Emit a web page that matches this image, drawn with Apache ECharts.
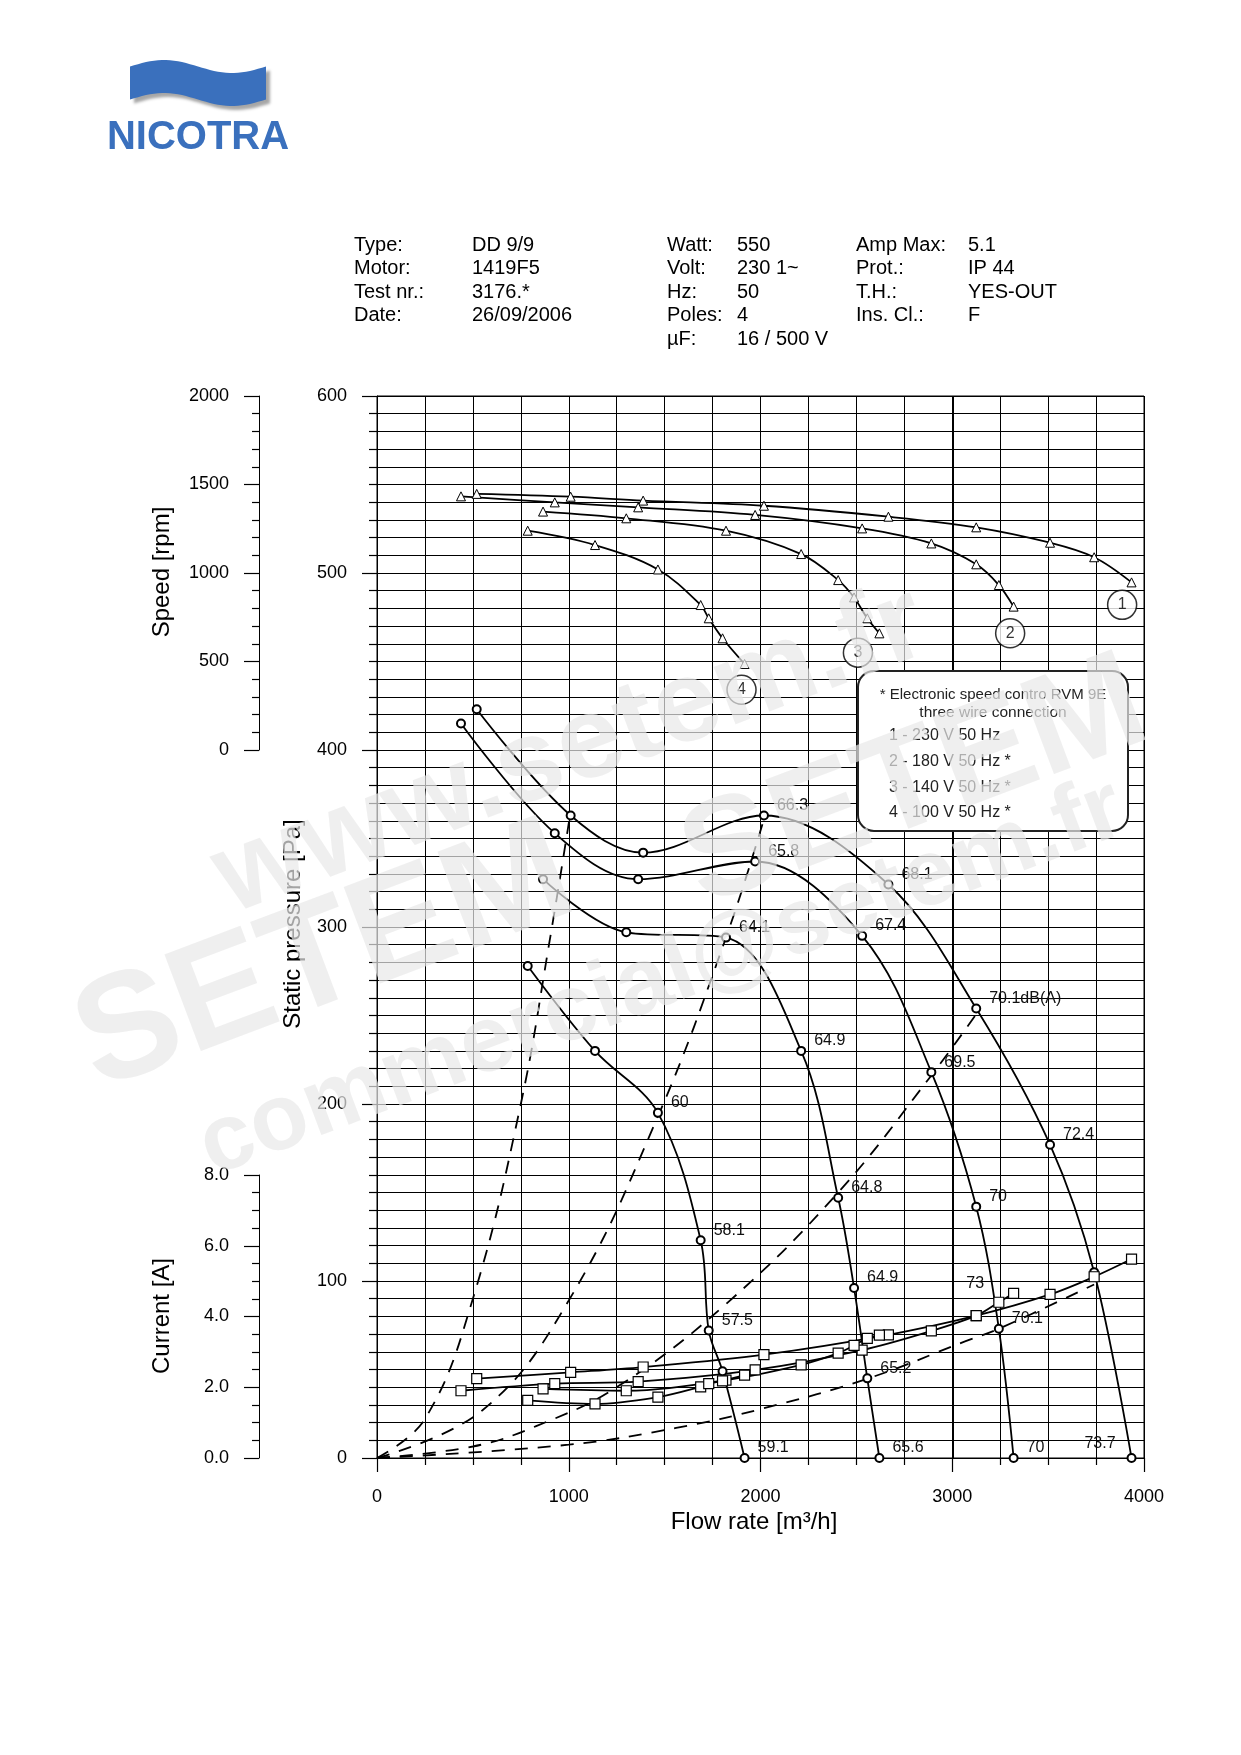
<!DOCTYPE html>
<html>
<head>
<meta charset="utf-8">
<script src="https://cdn.jsdelivr.net/npm/echarts@6/dist/echarts.min.js"></script>
<style>
  html, body { margin: 0; padding: 0; background: #fff; }
  #chart { width: 1241px; height: 1755px; }
</style>
</head>
<body>
<div id="chart"></div>
<script>
// fan performance curves, one set per supply voltage (1 = 230 V ... 4 = 100 V)
const flow1 = [520, 1010, 1388, 2018, 2667, 3125, 3510, 3740, 3935];
const pressure1 = [423, 363, 342, 363, 324, 254, 177, 105, 0];
const speed1 = [1447, 1431, 1409, 1380, 1318, 1258, 1171, 1089, 947];
const current1 = [2.24, 2.42, 2.57, 2.92, 3.48, 4.02, 4.62, 5.12, 5.62];
const noise1 = ['', '', '', '66.3', '68.1', '70.1dB(A)', '72.4', '73', '73.7'];

const flow2 = [438, 927, 1362, 1972, 2530, 2891, 3125, 3243, 3320];
const pressure2 = [415, 353, 327, 337, 295, 218, 142, 73, 0];
const speed2 = [1433, 1399, 1371, 1328, 1252, 1167, 1049, 932, 810];
const current2 = [1.90, 2.10, 2.16, 2.49, 3.05, 3.59, 4.02, 4.40, 4.65];
const noise2 = ['', '', '', '65.8', '67.4', '69.5', '70', '70.1', '70'];

const flow3 = [866, 1300, 1820, 2212, 2405, 2488, 2557, 2620];
const pressure3 = [327, 297, 294, 230, 147, 96, 45, 0];
const speed3 = [1347, 1309, 1239, 1107, 960, 862, 744, 659];
const current3 = [1.95, 1.90, 2.20, 2.63, 2.96, 3.18, 3.38, 3.47];
const noise3 = ['', '', '64.1', '64.9', '64.8', '64.9', '65.2', '65.6'];

const flow4 = [786, 1137, 1465, 1688, 1730, 1802, 1917];
const pressure4 = [278, 230, 195, 123, 72, 49, 0];
const speed4 = [1239, 1158, 1020, 819, 744, 631, 486];
const current4 = [1.63, 1.53, 1.72, 2.01, 2.10, 2.18, 2.34];
const noise4 = ['', '', '60', '58.1', '57.5', '', '59.1'];

// system (resistance) curves, dashed
const sys1Flow = [0, 250, 500, 750, 900, 1005];
const sys1Pressure = [0, 22, 90, 200, 292, 362];
const sys2Flow = [0, 550, 1000, 1465, 1820, 2010];
const sys2Pressure = [0, 27, 89, 193, 294, 358];
const sys3Flow = [0, 500, 830, 1250, 1820, 2405, 2890, 3120];
const sys3Pressure = [0, 6.5, 18, 40, 87, 150, 216, 250];
const sys4Flow = [0, 1000, 1560, 2014, 2563, 3070, 3243, 3740];
const sys4Pressure = [0, 7.5, 17, 28, 45, 66, 73, 98];

// circled curve numbers (flow, pressure)
const tagText = ['1', '2', '3', '4'];
const tagFlow = [3886, 3302, 2508, 1901];
const tagPressure = [482, 466, 455, 434];

const legendLines = ['1 - 230 V 50 Hz', '2 - 180 V 50 Hz *', '3 - 140 V 50 Hz *', '4 - 100 V 50 Hz *'];

const headerRows = [
  ['Type:', 'DD 9/9', 'Watt:', '550', 'Amp Max:', '5.1'],
  ['Motor:', '1419F5', 'Volt:', '230 1~', 'Prot.:', 'IP 44'],
  ['Test nr.:', '3176.*', 'Hz:', '50', 'T.H.:', 'YES-OUT'],
  ['Date:', '26/09/2006', 'Poles:', '4', 'Ins. Cl.:', 'F'],
  ['', '', '\u00b5F:', '16 / 500 V', '', '']
];

const FONT = '"Liberation Sans", Arial, sans-serif';

const curves = [
  { flow: flow1, pressure: pressure1, speed: speed1, current: current1, noise: noise1 },
  { flow: flow2, pressure: pressure2, speed: speed2, current: current2, noise: noise2 },
  { flow: flow3, pressure: pressure3, speed: speed3, current: current3, noise: noise3 },
  { flow: flow4, pressure: pressure4, speed: speed4, current: current4, noise: noise4 }
];
const systems = [
  [sys1Flow, sys1Pressure], [sys2Flow, sys2Pressure],
  [sys3Flow, sys3Pressure], [sys4Flow, sys4Pressure]
];

// a couple of noise labels sit left of their point
const leftLabels = {
  '73': { distance: 105, offset: [0, 11] },
  '73.7': { distance: 11, offset: [0, -14] }
};

const chart = echarts.init(document.getElementById('chart'));

const series = [];

curves.forEach(c => {
  // static pressure
  series.push({
    type: 'line', xAxisIndex: 0, yAxisIndex: 0, smooth: 0.35,
    symbol: 'emptyCircle', symbolSize: 8, z: 6,
    lineStyle: { color: '#000', width: 1.8 },
    itemStyle: { color: '#000', borderWidth: 1.2 },
    label: { show: false, position: 'right', distance: 8, offset: [0, -10],
      color: '#111', fontSize: 16, fontFamily: FONT },
    data: c.flow.map((q, i) => {
      const t = c.noise[i];
      const item = { value: [q, c.pressure[i]] };
      if (t) {
        item.label = { show: true, formatter: t };
        if (leftLabels[t]) {
          item.label.position = 'left';
          item.label.distance = leftLabels[t].distance;
          item.label.offset = leftLabels[t].offset;
        }
      }
      return item;
    })
  });
  // speed
  series.push({
    type: 'line', xAxisIndex: 0, yAxisIndex: 1, smooth: 0.35,
    symbol: 'triangle', symbolSize: 9, z: 6,
    lineStyle: { color: '#000', width: 1.8 },
    itemStyle: { color: '#fff', borderColor: '#000', borderWidth: 1 },
    data: c.flow.map((q, i) => [q, c.speed[i]])
  });
  // current
  series.push({
    type: 'line', xAxisIndex: 0, yAxisIndex: 2, smooth: 0.35,
    symbol: 'rect', symbolSize: 10, z: 6,
    lineStyle: { color: '#000', width: 1.8 },
    itemStyle: { color: '#fff', borderColor: '#000', borderWidth: 1.2 },
    data: c.flow.map((q, i) => [q, c.current[i]])
  });
});

systems.forEach(([f, p]) => {
  series.push({
    type: 'line', xAxisIndex: 0, yAxisIndex: 0, smooth: 0.4, symbol: 'none', z: 4,
    lineStyle: { color: '#000', width: 1.8, type: [13, 10] },
    data: f.map((q, i) => [q, p[i]])
  });
});

// heavier 3000 m3/h grid line
series.push({
  type: 'line', xAxisIndex: 0, yAxisIndex: 0, data: [], z: 3,
  markLine: { silent: true, symbol: 'none', label: { show: false },
    lineStyle: { color: '#000', width: 2, type: 'solid' },
    data: [{ xAxis: 3000 }] }
});

series.push({
  type: 'scatter', xAxisIndex: 0, yAxisIndex: 0, symbol: 'circle', symbolSize: 29, z: 7,
  itemStyle: { color: '#fff', borderColor: '#000', borderWidth: 1.5 },
  label: { show: true, position: 'inside', color: '#000', fontSize: 16, fontFamily: FONT },
  data: tagText.map((t, i) => ({ value: [tagFlow[i], tagPressure[i]], label: { formatter: t } }))
});

const plain = v => String(v);
const axisBase = {
  type: 'value',
  axisLine: { show: true, onZero: false, lineStyle: { color: '#000', width: 1 } },
  axisTick: { show: true, inside: false, lineStyle: { color: '#000', width: 1.2 } },
  minorTick: { show: true, lineStyle: { color: '#000', width: 1.2 } },
  axisLabel: { margin: 30, fontSize: 18, color: '#000', fontFamily: FONT, formatter: plain }
};

const graphic = [];

// logo: wavy flag + lettering
const wavePts = [];
for (let i = 0; i <= 34; i++) {
  const t = i / 34;
  wavePts.push([130 + t * 136, 66.5 - 6.5 * Math.sin(2 * Math.PI * t)]);
}
for (let i = 34; i >= 0; i--) {
  const t = i / 34;
  wavePts.push([130 + t * 136, 99.5 - 6.5 * Math.sin(2 * Math.PI * t)]);
}
graphic.push({
  type: 'polygon', z: 10,
  shape: { points: wavePts },
  style: { fill: '#3a70bd', shadowColor: 'rgba(0,0,0,0.35)', shadowBlur: 3, shadowOffsetX: 4, shadowOffsetY: 4 }
});
graphic.push({
  type: 'text', z: 10, x: 198, y: 138,
  style: { text: 'NICOTRA', font: 'bold 40px ' + FONT, fill: '#3a70bd', align: 'center', verticalAlign: 'middle',
    shadowColor: 'rgba(0,0,0,0.35)', shadowBlur: 2, shadowOffsetX: 3, shadowOffsetY: 3 }
});

// header block
const colX = [354, 472, 667, 737, 856, 968];
const rowY = [245, 268.5, 292, 315.5, 339];
headerRows.forEach((row, r) => {
  row.forEach((txt, k) => {
    if (!txt) return;
    graphic.push({ type: 'text', x: colX[k], y: rowY[r],
      style: { text: txt, font: '20px ' + FONT, fill: '#000', align: 'left', verticalAlign: 'middle' } });
  });
});

// axis titles
const titleFont = '24px ' + FONT;
[['Speed [rpm]', 162, 572], ['Current [A]', 162, 1316], ['Static pressure [Pa]', 293, 924]].forEach(([t, x, y]) => {
  graphic.push({ type: 'text', x: x, y: y, rotation: Math.PI / 2,
    style: { text: t, font: titleFont, fill: '#000', align: 'center', verticalAlign: 'middle' } });
});
graphic.push({ type: 'text', x: 754, y: 1522,
  style: { text: 'Flow rate [m\u00b3/h]', font: titleFont, fill: '#000', align: 'center', verticalAlign: 'middle' } });

// speed-control legend box (drawn above the grid)
graphic.push({ type: 'rect', z: 20, x: 858, y: 671, shape: { x: 0, y: 0, width: 270, height: 160, r: 16 },
  style: { fill: '#fff', stroke: '#222', lineWidth: 2 } });
graphic.push({ type: 'text', z: 21, x: 993, y: 695,
  style: { text: '* Electronic speed contro RVM 9E', font: '15px ' + FONT, fill: '#222', align: 'center', verticalAlign: 'middle' } });
graphic.push({ type: 'text', z: 21, x: 993, y: 713,
  style: { text: 'three wire connection', font: '15.5px ' + FONT, fill: '#222', align: 'center', verticalAlign: 'middle' } });
legendLines.forEach((t, i) => {
  graphic.push({ type: 'text', z: 21, x: 889, y: 736 + i * 25.6,
    style: { text: t, font: '16px ' + FONT, fill: '#222', align: 'left', verticalAlign: 'middle' } });
});

// watermark
const wmStyle = (size) => ({
  font: 'bold ' + size + 'px ' + FONT, fill: 'rgba(232,232,232,0.7)', align: 'center', verticalAlign: 'middle',
  shadowColor: 'rgba(0,0,0,0.45)', shadowBlur: 3, shadowOffsetX: -4, shadowOffsetY: 4
});
[
  ['www.setem.fr', 571, 752, 116],
  ['SETEM', 325, 960, 150],
  ['SETEM', 915, 785, 140],
  ['commercial@setem.fr', 662, 979, 94]
].forEach(([t, x, y, s]) => {
  graphic.push({ type: 'text', x: x, y: y, rotation: 0.36, z: 100, silent: true,
    style: Object.assign({ text: t }, wmStyle(s)) });
});

const option = {
  animation: false,
  backgroundColor: '#fff',
  grid: [
    { left: 377, top: 396, width: 767, height: 1062, show: true, borderColor: '#000', borderWidth: 1 },
    { left: 259, top: 396, width: 1, height: 354 },
    { left: 259, top: 1175, width: 1, height: 283 }
  ],
  xAxis: [
    Object.assign({}, axisBase, {
      gridIndex: 0, min: 0, max: 4000, interval: 1000,
      axisTick: { show: true, length: 14, lineStyle: { color: '#000', width: 1.2 } },
      minorTick: { show: true, splitNumber: 4, length: 7, lineStyle: { color: '#000', width: 1.2 } },
      splitLine: { show: true, lineStyle: { color: '#000', width: 1 } },
      minorSplitLine: { show: true, lineStyle: { color: '#000', width: 1 } }
    }),
    { gridIndex: 1, type: 'value', show: false },
    { gridIndex: 2, type: 'value', show: false }
  ],
  yAxis: [
    Object.assign({}, axisBase, {
      gridIndex: 0, min: 0, max: 600, interval: 100,
      axisTick: { show: true, length: 15, lineStyle: { color: '#000', width: 1.2 } },
      minorTick: { show: true, splitNumber: 10, length: 8, lineStyle: { color: '#000', width: 1.2 } },
      splitLine: { show: true, lineStyle: { color: '#000', width: 1 } },
      minorSplitLine: { show: true, lineStyle: { color: '#000', width: 1 } }
    }),
    { gridIndex: 0, type: 'value', min: -4000, max: 2000, show: false },
    { gridIndex: 0, type: 'value', min: 0, max: 30, show: false },
    Object.assign({}, axisBase, {
      gridIndex: 1, min: 0, max: 2000, interval: 500,
      axisTick: { show: true, length: 15, lineStyle: { color: '#000', width: 1.2 } },
      minorTick: { show: true, splitNumber: 5, length: 7, lineStyle: { color: '#000', width: 1.2 } },
      splitLine: { show: false }
    }),
    Object.assign({}, axisBase, {
      gridIndex: 2, min: 0, max: 8, interval: 2,
      axisTick: { show: true, length: 15, lineStyle: { color: '#000', width: 1.2 } },
      minorTick: { show: true, splitNumber: 4, length: 7, lineStyle: { color: '#000', width: 1.2 } },
      splitLine: { show: false },
      axisLabel: { margin: 30, fontSize: 18, color: '#000', fontFamily: FONT, formatter: v => v.toFixed(1) }
    })
  ],
  series: series,
  graphic: graphic
};

chart.setOption(option);
</script>
</body>
</html>
